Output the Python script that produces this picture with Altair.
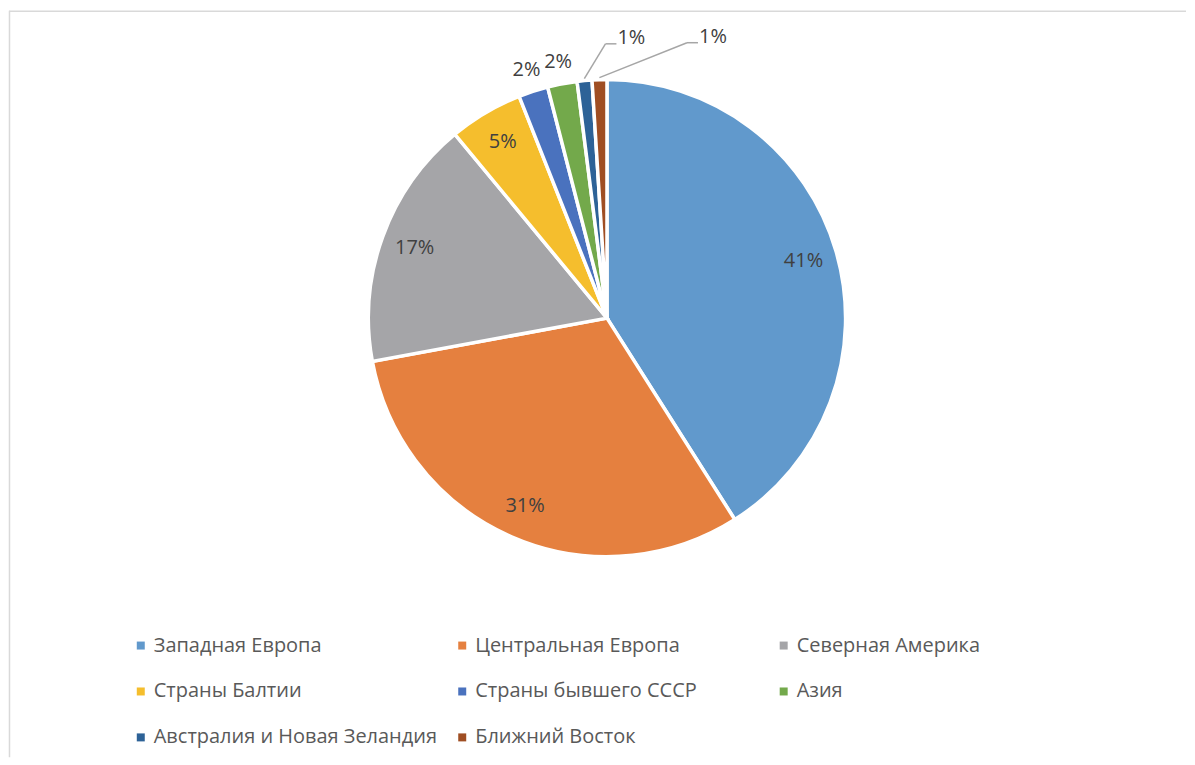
import altair as alt
import pandas as pd

categories = [
    "Западная Европа",
    "Центральная Европа",
    "Северная Америка",
    "Страны Балтии",
    "Страны бывшего СССР",
    "Азия",
    "Австралия и Новая Зеландия",
    "Ближний Восток",
]
values = [41.0, 31.1, 16.9, 5.0, 2.0, 2.0, 1.0, 1.0]
colors = ["#6199CC", "#E5803F", "#A5A5A8", "#F5BE2D", "#4A72BE", "#73A94B", "#2D6297", "#9F4E23"]

df = pd.DataFrame({"category": categories, "value": values, "idx": list(range(len(categories)))})

W, H = 1179, 750
CX, CY, R = 599, 310, 239
FONT = "Open Sans"
TXT = "#404040"

base = alt.Chart(df)

pie = base.mark_arc(outerRadius=R, stroke="white", strokeWidth=3.5).encode(
    theta=alt.Theta("value:Q", stack=True),
    order=alt.Order("idx:Q", sort="ascending"),
    color=alt.Color(
        "category:N",
        sort=categories,
        scale=alt.Scale(domain=categories, range=colors),
        legend=alt.Legend(
            title=None,
            orient="none",
            legendX=122,
            legendY=628,
            columns=3,
            direction="horizontal",
            gridAlign="all",
            columnPadding=15,
            rowPadding=26,
            symbolType="square",
            symbolSize=64,
            symbolStrokeWidth=0,
            labelFont=FONT,
            labelFontSize=20,
            labelColor="#595959",
            labelOffset=3,
            labelLimit=400,
        ),
    ),
    x=alt.value(CX),
    y=alt.value(CY),
)


def with_angles(ch):
    return ch.transform_window(
        cum="sum(value)", sort=[alt.SortField("idx")], frame=[None, 0]
    ).transform_joinaggregate(total="sum(value)").transform_calculate(
        a="2*PI*(datum.cum - datum.value/2)/datum.total",
        label="round(datum.value) + '%'",
    )


def xy(rad, shift=0):
    return (
        f"{CX} + {rad}*sin(datum.a) + {shift}",
        f"{CY} - {rad}*cos(datum.a)",
    )


inner_x, inner_y = xy(205)
inside = with_angles(base).transform_filter("datum.value >= 3").transform_calculate(
    lx=inner_x, ly=inner_y
).mark_text(font=FONT, fontSize=20, color=TXT, align="center", baseline="middle").encode(
    x=alt.X("lx:Q", scale=None, axis=None),
    y=alt.Y("ly:Q", scale=None, axis=None),
    text="label:N",
)

out_x, out_y = xy(261)
outside = with_angles(base).transform_filter("datum.value >= 1.5 && datum.value < 3").transform_calculate(
    lx=out_x, ly=out_y
).mark_text(font=FONT, fontSize=20, color=TXT, align="center", baseline="middle").encode(
    x=alt.X("lx:Q", scale=None, axis=None),
    y=alt.Y("ly:Q", scale=None, axis=None),
    text="label:N",
)

# labels of the smallest slices, moved sideways with leader lines
label_shift = {"Австралия и Новая Зеландия": 51, "Ближний Восток": 115}
small_layers = []
for cat, shift in label_shift.items():
    lxe, lye = xy(282, shift)
    sxe, sye = xy(R + 2)
    sm = with_angles(base).transform_filter(alt.datum.category == cat).transform_calculate(
        lx=lxe, ly=lye, sx=sxe, sy=sye
    ).transform_calculate(
        ex="datum.lx - 26", ey="datum.ly + 6", fx="datum.lx - 15"
    )
    small_layers.append(
        sm.mark_rule(color="#A6A6A6", strokeWidth=1.5).encode(
            x=alt.X("sx:Q", scale=None, axis=None),
            y=alt.Y("sy:Q", scale=None, axis=None),
            x2="ex:Q",
            y2="ey:Q",
        )
    )
    small_layers.append(
        sm.mark_rule(color="#A6A6A6", strokeWidth=1.5).encode(
            x=alt.X("ex:Q", scale=None, axis=None),
            y=alt.Y("ey:Q", scale=None, axis=None),
            x2="fx:Q",
        )
    )
    small_layers.append(
        sm.mark_text(font=FONT, fontSize=20, color=TXT, align="center", baseline="middle").encode(
            x=alt.X("lx:Q", scale=None, axis=None),
            y=alt.Y("ly:Q", scale=None, axis=None),
            text="label:N",
        )
    )

frame_df = pd.DataFrame({"k": [0]})
frame_top = alt.Chart(frame_df).mark_rule(color="#D9D9D9", strokeWidth=1.5).encode(
    x=alt.value(0), x2=alt.value(W), y=alt.value(2.5)
)
frame_left = alt.Chart(frame_df).mark_rule(color="#D9D9D9", strokeWidth=1.5).encode(
    x=alt.value(0.5), y=alt.value(2), y2=alt.value(H)
)

chart = alt.layer(frame_top, frame_left, pie, inside, outside, *small_layers).properties(
    width=W, height=H, padding=0, background="white"
).configure_view(stroke=None)

chart.save("out.html", embed_options={"renderer": "svg", "actions": False})
